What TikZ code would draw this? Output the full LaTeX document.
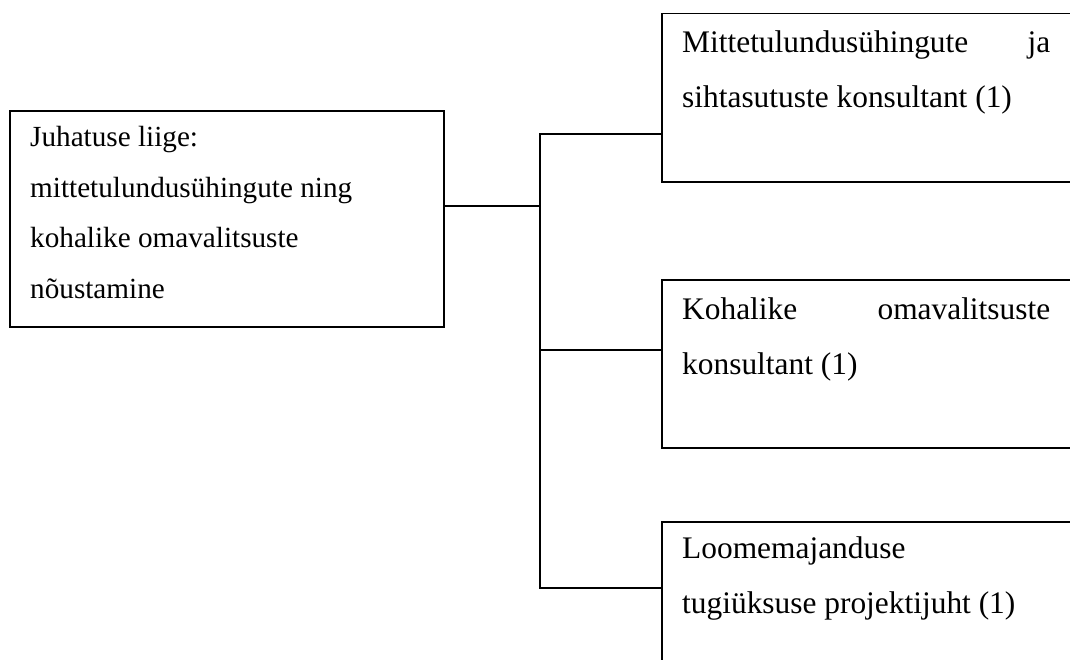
\documentclass[tikz,border=0pt]{standalone}
\usepackage{fontspec}
\setmainfont{Liberation Serif}
\tikzset{
  box/.style={draw, line width=1.6pt, anchor=north west, inner sep=0pt},
  txt/.style={anchor=north west, inner sep=0pt, text width=#1, align=justify},
  leadfont/.style={font=\fontsize{29.2}{50.5}\selectfont},
  subfont/.style={font=\fontsize{31.4}{55}\selectfont},
  conn/.style={line width=1.6pt},
}
\begin{document}
\begin{tikzpicture}[x=1pt,y=-1pt]
\useasboundingbox (0,0) rectangle (1070,659);
\clip (0,0) rectangle (1070,659);
% boxes
\node[box, minimum width=434pt, minimum height=216pt] (lead) at (9,110) {};
\node[box, minimum width=500pt, minimum height=168.3pt] (top) at (661,12.7) {};
\node[box, minimum width=500pt, minimum height=168pt] (mid) at (661,279) {};
\node[box, minimum width=500pt, minimum height=220pt] (bot) at (661,521) {};
% texts
\node[txt=400pt, leadfont] (leadtxt) at (30,124.7) {\rule{0pt}{22pt}Juhatuse liige:\\mittetulundusühingute ning\\kohalike omavalitsuste\\nõustamine};
\node[txt=368pt, subfont] (toptxt) at (682,28.5) {\rule{0pt}{24pt}Mittetulundusühingute\hfill ja\\sihtasutuste konsultant (1)};
\node[txt=368pt, subfont] (midtxt) at (682,295) {\rule{0pt}{24pt}Kohalike\hfill omavalitsuste\\konsultant (1)};
\node[txt=368pt, subfont] (bottxt) at (682,534) {\rule{0pt}{24pt}Loomemajanduse\\tugiüksuse projektijuht (1)};
% connectors
\coordinate (jn) at (540,206);
\coordinate (b1) at (540,133.7);
\coordinate (b2) at (540,350);
\coordinate (b3) at (540,588);
\draw[conn] (jn -| lead.east) -- (jn);
\draw[conn] (b1 -| top.west) -- (b1) -- (b3) -- (b3 -| bot.west);
\draw[conn] (b2) -- (b2 -| mid.west);
\end{tikzpicture}
\end{document}
